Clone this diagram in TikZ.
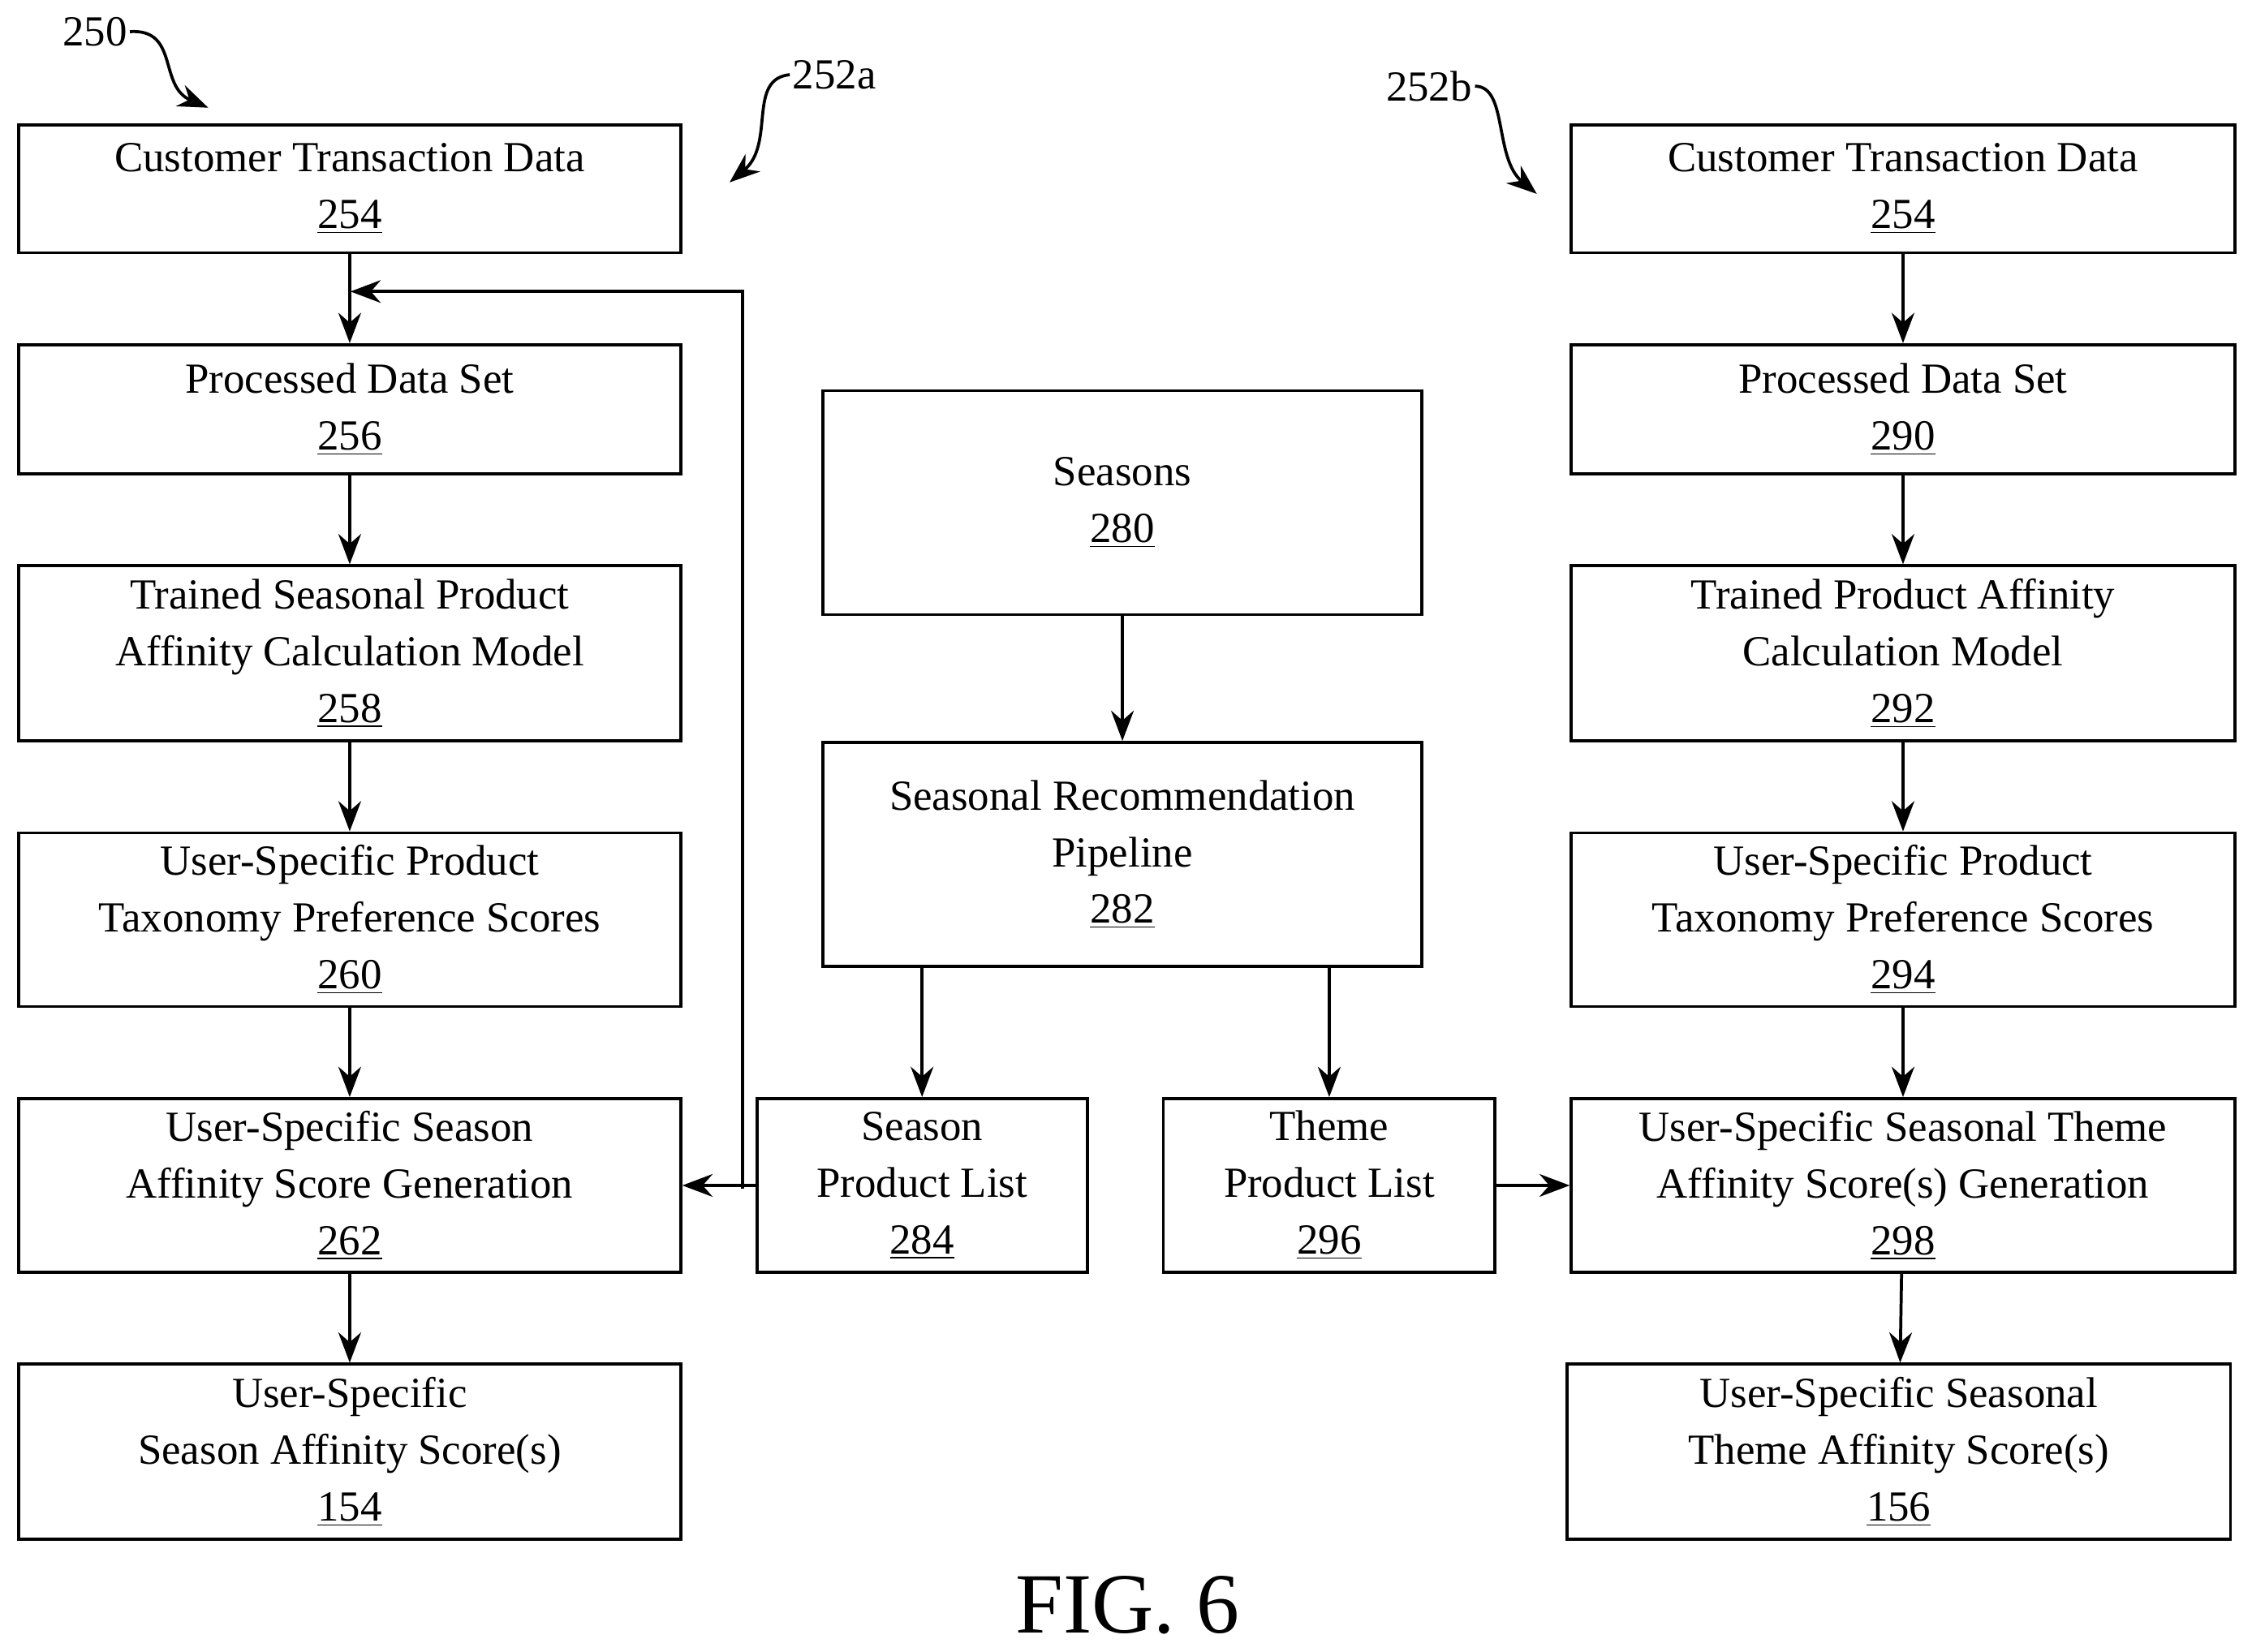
\documentclass[tikz,border=0pt]{standalone}
\usepackage{fontspec}
\setmainfont{Liberation Serif}
\usetikzlibrary{arrows.meta}
\begin{document}
\begin{tikzpicture}[x=0.02cm,y=-0.02cm,
  box/.style={draw,line width=1.2pt,inner sep=0pt,align=center,font=\fontsize{17}{22.5}\selectfont},
  arr/.style={line width=1.2pt,-{Stealth[length=12pt,width=9pt]}},
  lbl/.style={font=\fontsize{17}{20}\selectfont,inner sep=1pt}]
\useasboundingbox (0,0) rectangle (1568,1150);
\newcommand\bx[6]{\node[box,minimum width={(#4-#2)*0.02cm},minimum height={(#5-#3)*0.02cm}] (#1) at ({(#2+#4)/2},{(#3+#5)/2}) {#6};}
\bx{a254}{13}{87}{474}{176}{Customer Transaction Data\\\underline{254}}
\bx{a256}{13}{240}{474}{330}{Processed Data Set\\\underline{256}}
\bx{a258}{13}{394}{474}{516}{Trained Seasonal Product\\Affinity Calculation Model\\\underline{258}}
\bx{a260}{13}{580}{474}{701}{User-Specific Product\\Taxonomy Preference Scores\\\underline{260}}
\bx{a262}{13}{765}{474}{886}{User-Specific Season\\Affinity Score Generation\\\underline{262}}
\bx{a154}{13}{950}{474}{1072}{User-Specific\\Season Affinity Score(s)\\\underline{154}}
\bx{b254}{1094}{87}{1556}{176}{Customer Transaction Data\\\underline{254}}
\bx{b290}{1094}{240}{1556}{330}{Processed Data Set\\\underline{290}}
\bx{b292}{1094}{394}{1556}{516}{Trained Product Affinity\\Calculation Model\\\underline{292}}
\bx{b294}{1094}{580}{1556}{701}{User-Specific Product\\Taxonomy Preference Scores\\\underline{294}}
\bx{b298}{1094}{765}{1556}{886}{User-Specific Seasonal Theme\\Affinity Score(s) Generation\\\underline{298}}
\bx{b156}{1091}{950}{1553}{1072}{User-Specific Seasonal\\Theme Affinity Score(s)\\\underline{156}}
\bx{s280}{573}{272}{990}{428}{Seasons\\\underline{280}}
\bx{p282}{573}{517}{990}{673}{Seasonal Recommendation\\Pipeline\\\underline{282}}
\bx{l284}{527}{765}{757}{886}{Season\\Product List\\\underline{284}}
\bx{l296}{810}{765}{1041}{886}{Theme\\Product List\\\underline{296}}
\foreach \u/\v in {a254/a256,a256/a258,a258/a260,a260/a262,a262/a154,b254/b290,b290/b292,b292/b294,b294/b298,b298/b156,s280/p282}
  \draw[arr] (\u) -- (\v);
\draw[arr] (p282.south -| l284) -- (l284.north);
\draw[arr] (p282.south -| l296) -- (l296.north);
\draw[arr] (l284.west) -- (a262.east);
\coordinate (c1) at (517,828);
\coordinate (c2) at (517,203);
\coordinate (c3) at (244,203);
\draw[arr] (c1) -- (c2) -- (c3);
\draw[arr] (l296.east) -- (b298.west);
\node[lbl] (t250) at (66,22) {250};
\coordinate (e250) at (145,75);
\draw[arr] (t250.east) .. controls (125,20) and (110,60) .. (e250);
\node[lbl] (t252a) at (581,52) {252a};
\coordinate (e252a) at (508,127);
\draw[arr] (t252a.west) .. controls (520,55) and (540,100) .. (e252a);
\node[lbl] (t252b) at (995,60) {252b};
\coordinate (e252b) at (1070,135);
\draw[arr] (t252b.east) .. controls (1050,60) and (1040,110) .. (e252b);
\node[font=\fontsize{34}{40}\selectfont] (fig) at (785,1118) {FIG. 6};
\end{tikzpicture}
\end{document}
